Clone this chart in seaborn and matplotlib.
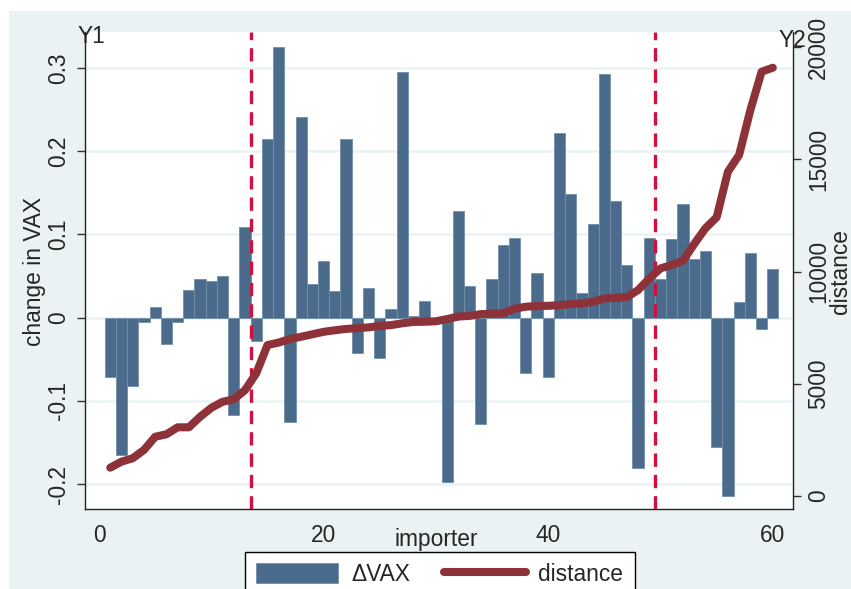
import numpy as np
import pandas as pd
import seaborn as sns
import matplotlib.pyplot as plt
from matplotlib.patches import Rectangle, Patch
from matplotlib.lines import Line2D

# importer index, change in VAX (Y1) and distance (Y2)
importer = list(range(1, 61))
dvax = [-0.071, -0.165, -0.082, -0.005, 0.013, -0.032, -0.005, 0.033, 0.046, 0.044,
        0.050, -0.117, 0.109, -0.028, 0.215, 0.325, -0.125, 0.241, 0.041, 0.068,
        0.032, 0.215, -0.042, 0.036, -0.048, 0.010, 0.295, 0.002, 0.020, 0.000,
        -0.197, 0.128, 0.038, -0.128, 0.047, 0.087, 0.096, -0.066, 0.054, -0.071,
        0.222, 0.149, 0.030, 0.113, 0.292, 0.140, 0.063, -0.181, 0.096, 0.047,
        0.094, 0.137, 0.071, 0.080, -0.155, -0.214, 0.019, 0.078, -0.014, 0.059]
distance = [1250, 1520, 1670, 2040, 2630, 2740, 3050, 3050, 3520, 3920,
            4190, 4300, 4710, 5460, 6720, 6830, 6990, 7090, 7200, 7310,
            7380, 7440, 7470, 7510, 7570, 7610, 7690, 7750, 7760, 7780,
            7880, 7990, 8020, 8100, 8120, 8140, 8340, 8430, 8460, 8470,
            8500, 8550, 8580, 8650, 8800, 8820, 8860, 9170, 9690, 10140,
            10290, 10480, 11230, 11930, 12420, 14450, 15200, 17200, 18910, 19090]
cutoffs = [13.5, 49.5]

x_ticks = [0, 20, 40, 60]
y1_ticks = [-0.2, -0.1, 0, 0.1, 0.2, 0.3]
y1_labels = ["-0.2", "-0.1", "0", "0.1", "0.2", "0.3"]
y2_ticks = [0, 5000, 10000, 15000, 20000]

df = pd.DataFrame({"importer": importer, "dvax": dvax, "distance": distance})

BG = "#eaf2f3"
BAR = "#4a6b8b"
LINE = "#8e3239"
DASH = "#d0103d"

sns.set_style("white")
plt.rcParams["font.family"] = ["Liberation Sans", "DejaVu Sans"]
plt.rcParams["font.size"] = 16.4

W, H = 851, 589
fig = plt.figure(figsize=(W / 100, H / 100), dpi=100, facecolor="white")
fig.patches.append(Rectangle((9 / W, 0), 1, 1 - 11 / H, transform=fig.transFigure,
                             facecolor=BG, edgecolor="none", zorder=-10))

ax = fig.add_axes([85 / W, 1 - 509 / H, (792.7 - 85) / W, (509 - 32) / H])
ax.set_facecolor("white")

sns.barplot(data=df, x="importer", y="dvax", native_scale=True, width=1,
            color=BAR, saturation=1, edgecolor="#7390ab", linewidth=0.6,
            errorbar=None, ax=ax, zorder=2)
for c in cutoffs:
    ax.axvline(c, color=DASH, lw=2.4, dashes=(4, 2.4), zorder=3)

ax.set_xlim(-1.25, 61.77)
ax.set_ylim(-0.2297, 0.343)
ax.set_xticks(x_ticks)
ax.set_xticklabels([str(t) for t in x_ticks])
ax.set_yticks(y1_ticks)
ax.set_yticklabels(y1_labels, rotation=90, va="center")
ax.set_xlabel("")
ax.set_ylabel("")
ax.grid(axis="y", color=BG, lw=1.8)
ax.set_axisbelow(True)
ax.tick_params(direction="out", length=6, width=1, color="#333333", pad=5)
for s in ["top", "right"]:
    ax.spines[s].set_visible(False)
for s in ["left", "bottom"]:
    ax.spines[s].set_color("#222222")
    ax.spines[s].set_linewidth(1)

ax2 = ax.twinx()
sns.lineplot(data=df, x="importer", y="distance", color=LINE, lw=5.8,
             sort=False, ax=ax2, zorder=4)
ax2.set_ylim(-593, 20683)
ax2.set_yticks(y2_ticks)
ax2.set_yticklabels([str(t) for t in y2_ticks], rotation=90, va="center")
ax2.set_xlabel("")
ax2.set_ylabel("")
ax2.tick_params(direction="out", length=6, width=1, color="#333333", pad=4.5)
for s in ["top", "left", "bottom"]:
    ax2.spines[s].set_visible(False)
ax2.spines["right"].set_visible(True)
ax2.spines["right"].set_color("#222222")
ax2.spines["right"].set_linewidth(1)

fig.text(35 / W, 1 - 271 / H, "change in VAX", rotation=90, ha="center", va="center")
fig.text(841 / W, 1 - 271 / H, "distance", rotation=90, ha="center", va="center")
fig.text(436 / W, 1 - 546 / H, "importer", ha="center", va="baseline")
fig.text(78 / W, 1 - 43 / H, "Y1", ha="left", va="baseline")
fig.text(779 / W, 1 - 47 / H, "Y2", ha="left", va="baseline")

handles = [Patch(facecolor=BAR, edgecolor="#7390ab", lw=0.6),
           Line2D([0], [0], color=LINE, lw=5.8)]
leg = fig.legend(handles, ["\u0394VAX", "distance"], loc="upper left",
                 bbox_to_anchor=(245 / W, 1 - 551.7 / H), ncol=2, frameon=True,
                 fancybox=False, edgecolor="black", framealpha=1, facecolor="white",
                 borderaxespad=0, handlelength=3.6, handleheight=1.0,
                 handletextpad=0.55, columnspacing=1.5, borderpad=0.5)
leg.get_frame().set_linewidth(1)

fig.savefig("out.png", dpi=100)
